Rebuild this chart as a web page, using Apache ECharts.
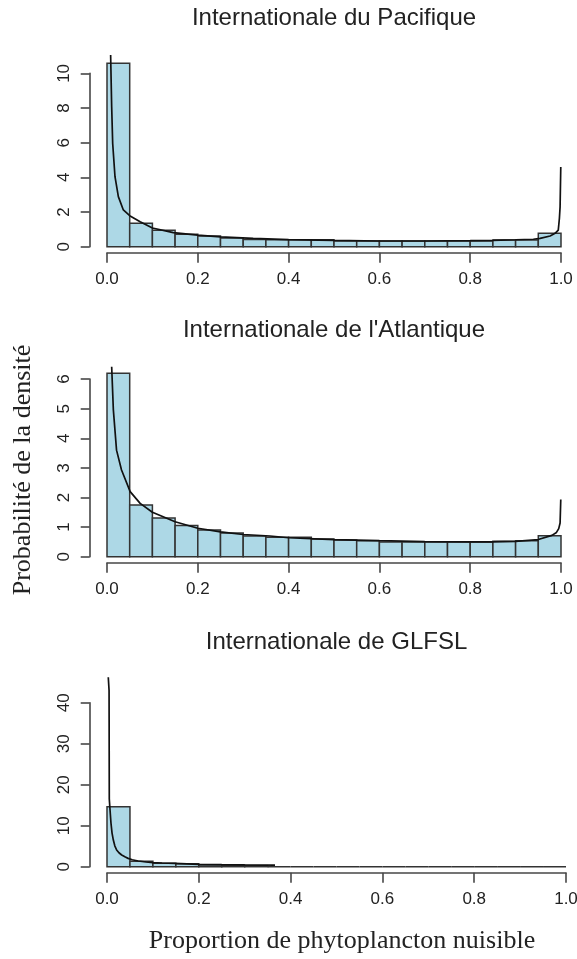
<!DOCTYPE html>
<html>
<head>
<meta charset="utf-8">
<script src="https://cdn.jsdelivr.net/npm/echarts@6/dist/echarts.min.js"></script>
<style>
  html, body { margin: 0; padding: 0; background: #ffffff; }
  #chart { width: 577px; height: 959px; }
</style>
</head>
<body>
<div id="chart"></div>
<script>
// Histogram bins: left edges, each 0.05 wide
const binLeft = [0, 0.05, 0.1, 0.15, 0.2, 0.25, 0.3, 0.35, 0.4, 0.45,
                 0.5, 0.55, 0.6, 0.65, 0.7, 0.75, 0.8, 0.85, 0.9, 0.95];
const binWidth = 0.05;

// Density per bin
const pacificBars  = [10.58, 1.36, 0.95, 0.72, 0.62, 0.50, 0.42, 0.40, 0.40, 0.40,
                      0.33, 0.33, 0.33, 0.33, 0.33, 0.33, 0.33, 0.38, 0.38, 0.77];
const atlanticBars = [6.20, 1.75, 1.31, 1.05, 0.90, 0.80, 0.70, 0.66, 0.66, 0.60,
                      0.56, 0.54, 0.50, 0.50, 0.50, 0.50, 0.50, 0.52, 0.54, 0.71];
const glfslBars    = [14.6, 1.30, 0.85, 0.75, 0.40, 0.30, 0.25, 0, 0, 0,
                      0, 0, 0, 0, 0, 0, 0, 0, 0, 0];

// Fitted density curves
const pacificCurveX = [0.008, 0.0103, 0.0125, 0.0176, 0.025, 0.036, 0.05, 0.073, 0.1, 0.146,
                       0.2, 0.25, 0.322, 0.4, 0.5, 0.6, 0.7, 0.8, 0.85, 0.9,
                       0.939, 0.954, 0.976, 0.987, 0.994, 0.9965, 0.998, 0.9995];
const pacificCurveY = [11.06, 8.08, 5.97, 4.04, 2.89, 2.12, 1.79, 1.44, 1.08, 0.81,
                       0.67, 0.57, 0.48, 0.41, 0.36, 0.33, 0.33, 0.35, 0.37, 0.40,
                       0.43, 0.48, 0.62, 0.77, 0.96, 1.64, 2.3, 4.6];

const atlanticCurveX = [0.0103, 0.014, 0.021, 0.032, 0.051, 0.073, 0.1, 0.15, 0.2, 0.25,
                        0.3, 0.359, 0.4, 0.5, 0.6, 0.7, 0.8, 0.85, 0.9, 0.95,
                        0.98, 0.99, 0.995, 0.998, 0.9995];
const atlanticCurveY = [6.42, 4.96, 3.6, 2.93, 2.2, 1.8, 1.5, 1.18, 0.96, 0.84,
                        0.75, 0.70, 0.64, 0.58, 0.54, 0.51, 0.50, 0.50, 0.52, 0.58,
                        0.72, 0.82, 0.95, 1.14, 1.93];

const glfslCurveX = [0.0028, 0.0045, 0.005, 0.0065, 0.0087, 0.011, 0.0138, 0.017, 0.021, 0.026,
                     0.032, 0.04, 0.046, 0.055, 0.068, 0.085, 0.1, 0.12, 0.148, 0.2,
                     0.25, 0.3, 0.366];
const glfslCurveY = [46.2, 43.0, 16.5, 14.0, 10.6, 8.2, 6.5, 5.1, 4.07, 3.4,
                     2.85, 2.35, 2.03, 1.7, 1.39, 1.15, 0.98, 0.9, 0.8, 0.58,
                     0.5, 0.45, 0.4];

// Tick labels
const xTicks = [0, 0.2, 0.4, 0.6, 0.8, 1.0];
const pacificYTicks  = [0, 2, 4, 6, 8, 10];
const atlanticYTicks = [0, 1, 2, 3, 4, 5, 6];
const glfslYTicks    = [0, 10, 20, 30, 40];

const titles = ['Internationale du Pacifique', "Internationale de l'Atlantique", 'Internationale de GLFSL'];
const yTitle = 'Probabilité de la densité';
const xTitle = 'Proportion de phytoplancton nuisible';

// Layout of the three panels (pixels)
const layout = [
  { left: 107, right: 561, base: 246.7, ppu: 17.33, top: 55.0,  titleY: 18 },
  { left: 107, right: 561, base: 556.7, ppu: 29.6,  top: 366.7, titleY: 330 },
  { left: 107, right: 566, base: 866.7, ppu: 4.1,   top: 677.3, titleY: 642 }
];

const panelData = [
  { bars: pacificBars,  cx: pacificCurveX,  cy: pacificCurveY,  yTicks: pacificYTicks },
  { bars: atlanticBars, cx: atlanticCurveX, cy: atlanticCurveY, yTicks: atlanticYTicks },
  { bars: glfslBars,    cx: glfslCurveX,    cy: glfslCurveY,    yTicks: glfslYTicks }
];

const axisColor = '#474747';
const textColor = '#222222';
const sansFont = '"Liberation Sans", Arial, sans-serif';
const serifFont = '"Liberation Serif", "Times New Roman", serif';

const grid = [], xAxis = [], yAxis = [], series = [], graphic = [];

panelData.forEach((p, i) => {
  const L = layout[i];
  const width = L.right - L.left;
  const yMaxTick = p.yTicks[p.yTicks.length - 1];
  const dataTopValue = (L.base - L.top) / L.ppu;
  const tickTopPx = L.base - yMaxTick * L.ppu;

  // data grid
  grid.push({ left: L.left, width: width, top: L.top, height: L.base - L.top,
              containLabel: false, outerBoundsMode: 'none' });
  // axis grid for the y scale (ends at the last tick)
  grid.push({ left: L.left, width: width, top: tickTopPx, height: L.base - tickTopPx,
              containLabel: false, outerBoundsMode: 'none' });

  const gA = 2 * i, gB = 2 * i + 1;

  xAxis.push({
    gridIndex: gA, type: 'value', min: 0, max: 1, offset: 6,
    axisLine: { show: true, onZero: false, lineStyle: { color: axisColor, width: 1.6 } },
    axisTick: { show: true, length: 10, customValues: xTicks, lineStyle: { color: axisColor, width: 1.6 } },
    axisLabel: { show: true, margin: 18, fontSize: 17, color: textColor, fontFamily: sansFont,
                 customValues: xTicks, formatter: v => v.toFixed(1) },
    splitLine: { show: false }
  });
  xAxis.push({ gridIndex: gB, type: 'value', min: 0, max: 1, show: false });

  yAxis.push({ gridIndex: gA, type: 'value', min: 0, max: dataTopValue, show: false });
  yAxis.push({
    gridIndex: gB, type: 'value', min: 0, max: yMaxTick, offset: 17.3,
    axisLine: { show: true, onZero: false, lineStyle: { color: axisColor, width: 1.6 } },
    axisTick: { show: true, length: 9, customValues: p.yTicks, lineStyle: { color: axisColor, width: 1.6 } },
    axisLabel: { show: true, rotate: 90, margin: 17, fontSize: 17, color: textColor, fontFamily: sansFont,
                 customValues: p.yTicks },
    splitLine: { show: false }
  });

  // histogram bars
  series.push({
    type: 'custom',
    xAxisIndex: gA, yAxisIndex: gA,
    data: binLeft.map((x0, k) => [x0, x0 + binWidth, p.bars[k]]),
    renderItem: (params, api) => {
      const p0 = api.coord([api.value(0), 0]);
      const p1 = api.coord([api.value(1), api.value(2)]);
      return {
        type: 'rect',
        shape: { x: p0[0], y: p1[1], width: p1[0] - p0[0], height: p0[1] - p1[1] },
        style: { fill: '#ADD8E6', stroke: '#333333', lineWidth: 1.5 }
      };
    },
    silent: true, animation: false, z: 2
  });

  // density curve
  series.push({
    type: 'line',
    xAxisIndex: gA, yAxisIndex: gA,
    data: p.cx.map((x, k) => [x, p.cy[k]]),
    showSymbol: false, symbol: 'none', smooth: false, clip: true,
    lineStyle: { color: '#111111', width: 1.7 },
    silent: true, animation: false, z: 3
  });

  graphic.push({
    type: 'text', x: (L.left + L.right) / 2, y: L.titleY,
    style: { text: titles[i], font: '24px ' + sansFont, fill: textColor,
             textAlign: 'center', textVerticalAlign: 'middle' }
  });
});

graphic.push({
  type: 'text', x: 23, y: 470, rotation: Math.PI / 2,
  style: { text: yTitle, font: '26px ' + serifFont, fill: textColor,
           textAlign: 'center', textVerticalAlign: 'middle' }
});
graphic.push({
  type: 'text', x: 342, y: 941,
  style: { text: xTitle, font: '26px ' + serifFont, fill: textColor,
           textAlign: 'center', textVerticalAlign: 'middle' }
});

const chart = echarts.init(document.getElementById('chart'), null, { renderer: 'canvas' });
chart.setOption({
  backgroundColor: '#ffffff',
  animation: false,
  grid, xAxis, yAxis, series, graphic
});
</script>
</body>
</html>
